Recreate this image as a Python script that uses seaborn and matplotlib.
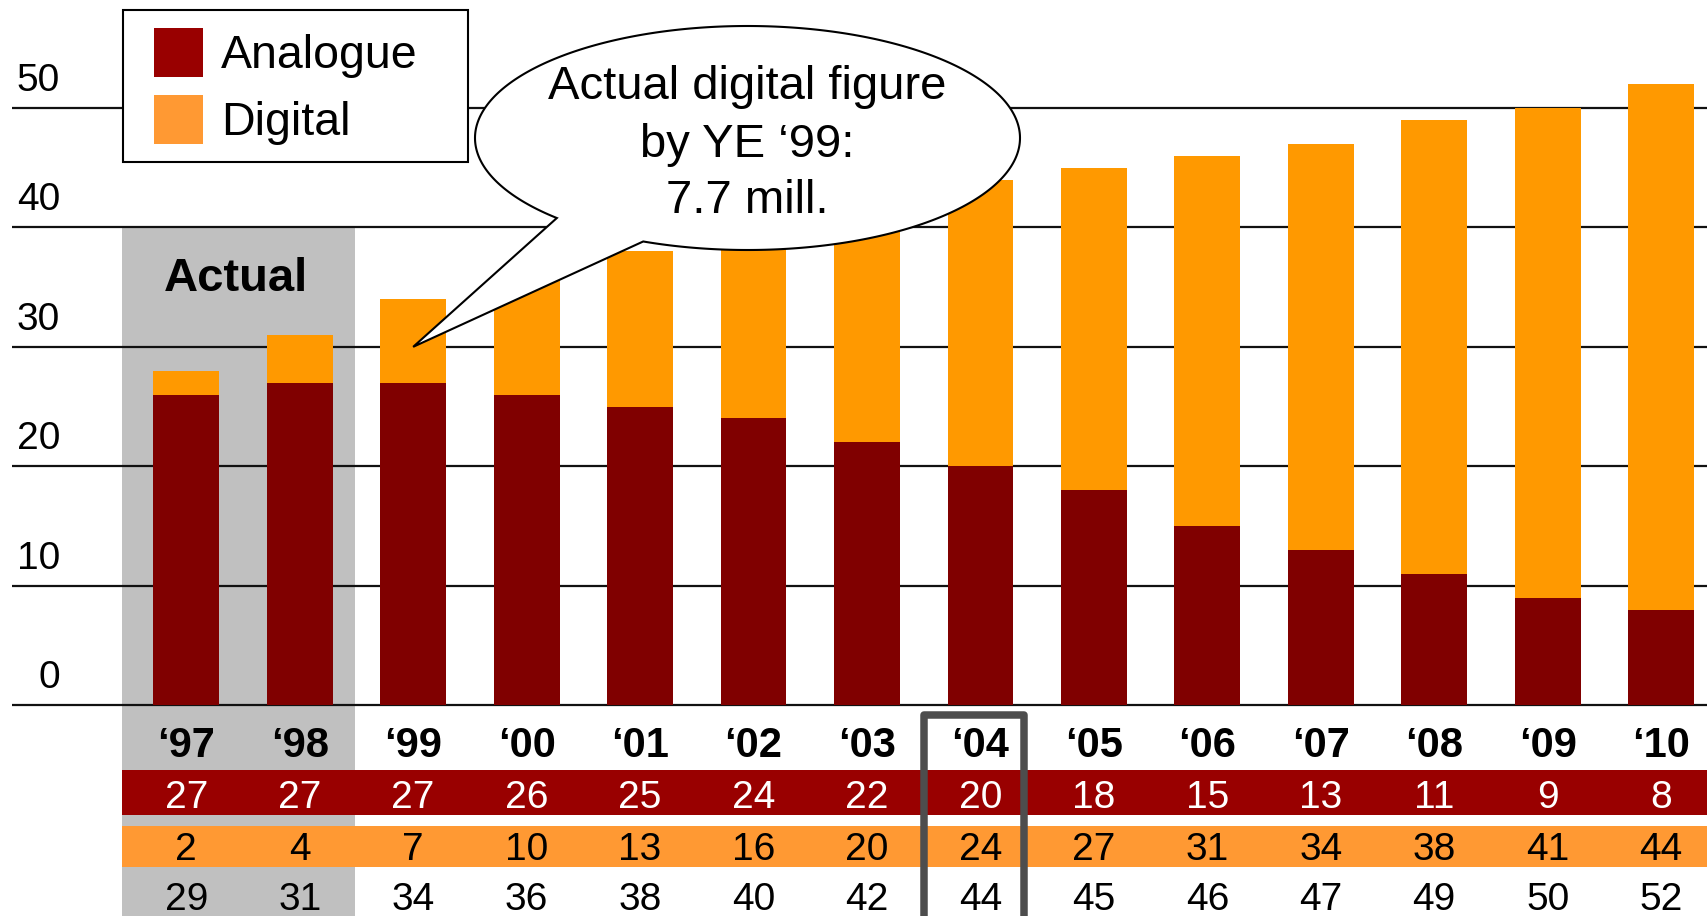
import numpy as np
import pandas as pd
import seaborn as sns
import matplotlib.pyplot as plt
from matplotlib.patches import Rectangle, Patch, Polygon
from matplotlib.transforms import blended_transform_factory

# --- data ---
years = ['‘97', '‘98', '‘99', '‘00', '‘01', '‘02', '‘03',
         '‘04', '‘05', '‘06', '‘07', '‘08', '‘09', '‘10']
analogue_bar = [26, 27, 27, 26, 25, 24, 22, 20, 18, 15, 13, 11, 9, 8]
digital_bar = [2, 4, 7, 10, 13, 16, 20, 24, 27, 31, 34, 38, 41, 44]
analogue_row = [27, 27, 27, 26, 25, 24, 22, 20, 18, 15, 13, 11, 9, 8]
digital_row = [2, 4, 7, 10, 13, 16, 20, 24, 27, 31, 34, 38, 41, 44]
total_row = [29, 31, 34, 36, 38, 40, 42, 44, 45, 46, 47, 49, 50, 52]
y_ticks = [0, 10, 20, 30, 40, 50]
legend_labels = ['Analogue', 'Digital']
callout_lines = ['Actual digital figure', 'by YE ‘99:', '7.7 mill.']

df = pd.DataFrame({'year': years, 'analogue': analogue_bar, 'digital': digital_bar})
df['total'] = df['analogue'] + df['digital']

# colours
C_ANA = '#800000'
C_DIG = '#FF9900'
C_ANA_ROW = '#990000'
C_DIG_ROW = '#FF9933'
C_GREY = '#C0C0C0'

sns.set_style('white')
plt.rcParams['font.family'] = ['Liberation Sans', 'DejaVu Sans']
plt.rcParams['text.color'] = 'black'

W, H = 1708, 916
fig = plt.figure(figsize=(W / 100, H / 100), dpi=100)
ax = fig.add_axes([12 / W, 0, 1 - 12 / W, 1])

def fx(px):
    return px / W

def fy(py):
    return 1 - py / H

# bars: total (digital colour) then analogue on top
sns.barplot(data=df, x='year', y='total', color=C_DIG, width=0.58,
            saturation=1, errorbar=None, linewidth=0, zorder=2, ax=ax)
sns.barplot(data=df, x='year', y='analogue', color=C_ANA, width=0.58,
            saturation=1, errorbar=None, linewidth=0, zorder=3, ax=ax)

ax.set_xlim(-1.536, 13.413)
ax.set_ylim(-17.67, 59.05)
ax.set_xlabel('')
ax.set_ylabel('')
for s in ax.spines.values():
    s.set_visible(False)
ax.set_yticks(y_ticks)
ax.tick_params(left=False, bottom=False, labelleft=False, labelbottom=False)
ax.set_axisbelow(True)
ax.yaxis.grid(True, color='#111111', linewidth=1.6)
ax.xaxis.grid(False)

# grey "Actual" region
ax.add_patch(Rectangle((-0.567, -20), 2.054, 60.16, facecolor=C_GREY,
                       edgecolor='none', zorder=0.2))
ax.text(0.434, 34.7, 'Actual', ha='center', va='baseline', fontsize=34,
        fontweight='bold', zorder=4)

# y tick labels sitting above the lines, right-aligned
ytrans = blended_transform_factory(fig.transFigure, ax.transData)
for v in y_ticks:
    ax.text(fx(60), v + 1.42, str(v), transform=ytrans, ha='right',
            va='baseline', fontsize=28)

# table under the chart
ax.add_patch(Rectangle((-0.567, -9.21), 15, 3.77, facecolor=C_ANA_ROW,
                       edgecolor='none', zorder=1))
ax.add_patch(Rectangle((-0.567, -13.54), 15, 3.41, facecolor=C_DIG_ROW,
                       edgecolor='none', zorder=1))
for i, yr in enumerate(years):
    ax.text(i, -4.35, yr, ha='center', va='baseline', fontsize=30,
            fontweight='bold', zorder=4)
    ax.text(i, -8.63, str(analogue_row[i]), ha='center', va='baseline',
            fontsize=28, color='white', zorder=4)
    ax.text(i, -12.98, str(digital_row[i]), ha='center', va='baseline',
            fontsize=28, zorder=4)
    ax.text(i, -17.15, str(total_row[i]), ha='center', va='baseline',
            fontsize=28, zorder=4)

# highlight box around '04
ax.add_patch(Rectangle((6.50, -20), 0.884, 19.2, facecolor='none',
                       edgecolor='#4d4d4d', linewidth=5.4, joinstyle='round',
                       zorder=5))

# legend with a square frame
ax.add_patch(Rectangle((fx(123), fy(162)), fx(467.7) - fx(123), fy(10) - fy(162),
                       transform=fig.transFigure, facecolor='white',
                       edgecolor='black', linewidth=1.5, zorder=4, clip_on=False))
handles = [Patch(facecolor=C_ANA_ROW, edgecolor='none'),
           Patch(facecolor=C_DIG_ROW, edgecolor='none')]
ax.legend(handles, legend_labels, loc='upper left',
          bbox_to_anchor=(fx(153.8), fy(28)), bbox_transform=fig.transFigure,
          frameon=False, fontsize=33.5, handlelength=1.054, handleheight=1.23,
          handletextpad=0.39, labelspacing=0.375, borderpad=0, borderaxespad=0)

# speech-bubble callout pointing at the '99 bar
tip = ax.transData.transform((2, 30))
tip_fig = fig.transFigure.inverted().transform(tip)
cx, cy, a, b = 747.5, 138, 272.5, 112
t = np.radians(np.linspace(112.5, -225.6, 400))
pts = [(fx(cx + a * np.cos(k)), fy(cy + b * np.sin(k))) for k in t]
pts.append(tuple(tip_fig))
ax.add_patch(Polygon(pts, closed=True, transform=fig.transFigure,
                     facecolor='white', edgecolor='black', linewidth=1.5,
                     zorder=6, clip_on=False))
for line, base in zip(callout_lines, [99, 156.7, 213]):
    ax.text(fx(747), fy(base), line, transform=fig.transFigure, ha='center',
            va='baseline', fontsize=34, zorder=7)

fig.savefig('out.png', dpi=100)
